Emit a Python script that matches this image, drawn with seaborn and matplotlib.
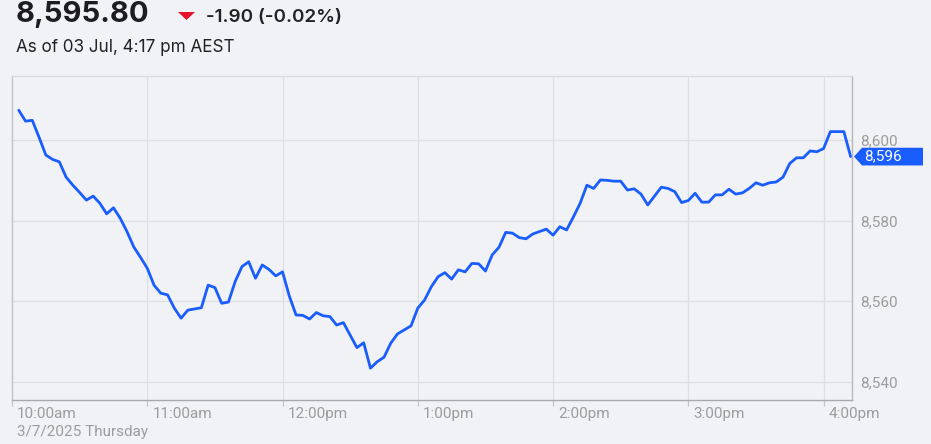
import matplotlib.pyplot as plt
import matplotlib.dates as mdates
import pandas as pd
import seaborn as sns
from matplotlib.patches import Polygon
from matplotlib.transforms import blended_transform_factory, ScaledTranslation

# index level every 3 minutes from 10:03 am
prices = [
    8607.4, 8604.7, 8604.9, 8600.7, 8596.3, 8595.2, 8594.6, 8590.8, 8588.8, 8587.0,
    8585.1, 8586.1, 8584.3, 8581.7, 8583.2, 8580.6, 8577.3, 8573.5, 8570.9, 8568.2,
    8564.0, 8562.0, 8561.6, 8558.3, 8555.8, 8557.8, 8558.1, 8558.4, 8564.0, 8563.4,
    8559.5, 8559.8, 8564.9, 8568.6, 8569.8, 8565.7, 8569.0, 8567.9, 8566.3, 8567.3,
    8561.3, 8556.6, 8556.5, 8555.6, 8557.2, 8556.4, 8556.2, 8554.1, 8554.7, 8551.6,
    8548.5, 8549.7, 8543.4, 8545.0, 8546.1, 8549.6, 8551.9, 8552.9, 8553.9, 8558.3,
    8560.3, 8563.6, 8566.1, 8567.1, 8565.5, 8567.8, 8567.3, 8569.4, 8569.3, 8567.5,
    8571.5, 8573.4, 8577.1, 8576.9, 8575.8, 8575.5, 8576.7, 8577.3, 8577.9, 8576.4,
    8578.5, 8577.7, 8580.9, 8584.3, 8588.8, 8588.0, 8590.1, 8590.0, 8589.8, 8589.8,
    8587.6, 8587.9, 8586.6, 8583.9, 8586.1, 8588.3, 8588.0, 8587.2, 8584.5, 8585.0,
    8586.8, 8584.6, 8584.6, 8586.4, 8586.4, 8587.8, 8586.6, 8586.9, 8588.0, 8589.4,
    8588.8, 8589.4, 8589.6, 8590.8, 8594.2, 8595.6, 8595.6, 8597.3, 8597.1, 8597.9,
    8602.1, 8602.1, 8602.1, 8595.9,
]
times = pd.date_range("2025-07-03 10:03", periods=len(prices), freq="3min")

hour_ticks = pd.to_datetime(["2025-07-03 10:00", "2025-07-03 11:00", "2025-07-03 12:00",
                             "2025-07-03 13:00", "2025-07-03 14:00", "2025-07-03 15:00",
                             "2025-07-03 16:00"])
hour_labels = ["10:00am", "11:00am", "12:00pm", "1:00pm", "2:00pm", "3:00pm", "4:00pm"]
price_ticks = [8540, 8560, 8580, 8600]

BG = "#f1f2f5"
BLUE = "#1a5dff"
GREY_TXT = "#9c9c9c"

sns.set_theme(style="white")
plt.rcParams["font.family"] = ["Roboto", "DejaVu Sans"]

fig = plt.figure(figsize=(9.31, 4.44), dpi=100, facecolor=BG)
ax = fig.add_axes([12 / 931, 44 / 444, 840 / 931, 324 / 444])
ax.set_facecolor(BG)

df = pd.DataFrame({"time": times, "price": prices})
sns.lineplot(data=df, x="time", y="price", ax=ax, color=BLUE, linewidth=2.0)

ax.set_xlim(pd.Timestamp("2025-07-03 10:00"), pd.Timestamp("2025-07-03 16:12:36"))
ax.set_ylim(8535.5, 8615.9)
ax.set_xlabel("")
ax.set_ylabel("")

ax.set_xticks(mdates.date2num(hour_ticks))
ax.set_xticklabels(hour_labels)
ax.set_yticks(price_ticks)
ax.set_yticklabels([f"{v:,}" for v in price_ticks])
ax.yaxis.tick_right()

ax.grid(True, color="#dedfe1", linewidth=0.9)
ax.set_axisbelow(True)

ax.tick_params(axis="y", right=False, left=False, length=0, pad=6,
               labelsize=11, labelcolor=GREY_TXT)
ax.tick_params(axis="x", bottom=True, length=4, width=0.9, color="#c6c6c6", pad=1,
               labelsize=11, labelcolor=GREY_TXT)
shift = ScaledTranslation(5 / 100, 0, fig.dpi_scale_trans)
for lbl in ax.get_xticklabels():
    lbl.set_ha("left")
    lbl.set_transform(lbl.get_transform() + shift)

for side, col in [("left", "#c4c4c4"), ("bottom", "#a9a9a9"),
                  ("right", "#b9b9b9"), ("top", "#dcdcdc")]:
    ax.spines[side].set_visible(True)
    ax.spines[side].set_color(col)
    ax.spines[side].set_linewidth(1.0)

# last price tag on the right
last = prices[-1]
tr = blended_transform_factory(fig.transFigure, ax.transData)
h = 2.2
tag = Polygon([(854 / 931, last), (862 / 931, last + h), (923 / 931, last + h),
               (923 / 931, last - h), (862 / 931, last - h)],
              closed=True, transform=tr, facecolor=BLUE, edgecolor="none", clip_on=False)
fig.add_artist(tag)
fig.text(864 / 931, last, f"{last:,.0f}", transform=tr, color="white", fontsize=11,
         va="center", ha="left")

# header
fig.text(16 / 931, 1 - 15 / 444, "8,595.80", fontsize=21, fontweight="bold",
         family=["Inter", "DejaVu Sans"], va="center", color="#1d1d1f")
tri = Polygon([(178 / 931, 1 - 12 / 444), (195 / 931, 1 - 12 / 444),
               (186.5 / 931, 1 - 20 / 444)], closed=True,
              transform=fig.transFigure, facecolor="#e8112d", edgecolor="none")
fig.add_artist(tri)
fig.text(206 / 931, 1 - 17 / 444, "-1.90 (-0.02%)", fontsize=13.5, fontweight="semibold",
         family=["Inter", "DejaVu Sans"], va="center", color="#222222")
fig.text(16 / 931, 1 - 48 / 444, "As of 03 Jul, 4:17 pm AEST", fontsize=12.3,
         family=["Inter", "DejaVu Sans"], va="center", color="#222222")
fig.text(17 / 931, 1 - 432 / 444, "3/7/2025 Thursday", fontsize=11,
         va="center", color=GREY_TXT)

fig.savefig("out.png", dpi=100, facecolor=BG)
